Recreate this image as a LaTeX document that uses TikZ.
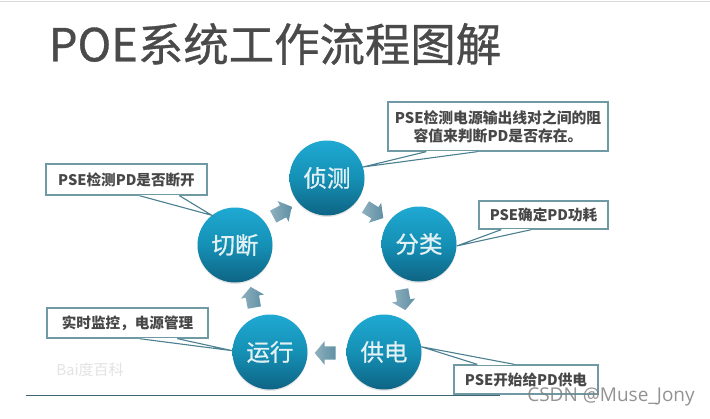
\documentclass[tikz,border=0pt]{standalone}
\usepackage{fontspec}
\setmainfont{Noto Sans CJK SC}
\newfontfamily\markfont{Open Sans}
\newfontfamily\heavyfont[FakeBold=0.7]{Noto Sans CJK SC}
\usetikzlibrary{calc,shapes.arrows,shadows}
\definecolor{boxline}{HTML}{6F9AA3}
\definecolor{tipline}{HTML}{4A8090}
\definecolor{titlegray}{HTML}{4A4A4A}
\definecolor{ballhigh}{HTML}{1FA9D3}
\definecolor{ballmid}{HTML}{1590B5}
\definecolor{balllow}{HTML}{0E6484}
\definecolor{balltext}{HTML}{E3F1F5}
\definecolor{flowlow}{HTML}{8FB0BE}
\definecolor{flowhigh}{HTML}{5F8FA4}
\tikzset{
  stage/.style={circle, minimum size=75pt, inner sep=0pt, top color=ballhigh, bottom color=balllow,
    middle color=ballmid, text=balltext, font=\heavyfont\fontsize{23.5}{23.5}\selectfont,
    drop shadow={opacity=0.2, shadow xshift=0pt, shadow yshift=-1.5pt}},
  note/.style={draw=boxline, line width=1.3pt, fill=white, text=black!72, inner sep=0pt, align=center,
    font=\fontsize{14.6}{18}\bfseries\selectfont},
  flow/.style={single arrow, inner sep=6.5pt, minimum height=21pt,
    single arrow head extend=5pt, single arrow tip angle=100,
    left color=flowlow, right color=flowhigh},
}
% box name, start and end of the wedge along the box edge, edge anchor, tip
\newcommand{\wedgeto}[5]{
  \coordinate (a) at ($(#1.#4 west)+(#2,0)$);
  \coordinate (b) at ($(#1.#4 west)+(#3,0)$);
  \fill[white] (a) -- (#5) -- (b) -- cycle;
  \draw[white, line width=1.8pt] (a) -- (b);
  \draw[tipline, line width=1.1pt] (a) -- (#5) -- (b);
}
\begin{document}
\begin{tikzpicture}[x=1pt, y=-1pt]
  \useasboundingbox (0,0) rectangle (710,418);
  \fill[white] (0,0) rectangle (710,418);
  % top edge and title
  \coordinate (topleft) at (0,1);
  \coordinate (topright) at (710,1);
  \draw[black!14, line width=1pt] (topleft) -- (topright);
  \node[anchor=center, text=titlegray, font=\heavyfont\fontsize{45.4}{45.4}\selectfont, inner sep=0pt] (title) at (275,44) {POE系统工作流程图解};

  % ground line
  \coordinate (groundleft) at (26,395);
  \coordinate (groundright) at (500,395);
  \draw[tipline!80!black, line width=1pt] (groundleft) -- (groundright);

  % faint stamp
  \node[text=black!11, font=\fontsize{15}{15}\selectfont, inner sep=0pt] (stamp) at (90,370) {Bai度百科};

  % the five stages
  \node[stage] (detect) at (327,178) {侦测};
  \node[stage] (classify) at (419,244) {分类};
  \node[stage] (power) at (384,352) {供电};
  \node[stage] (running) at (270,352) {运行};
  \node[stage] (cutoff) at (235,245) {切断};

  % arrows between stages
  \node[flow, rotate=28] (flowa) at (280,213) {};
  \node[flow, rotate=-32] (flowb) at (372,211) {};
  \node[flow, rotate=-80] (flowc) at (403,297) {};
  \node[flow, rotate=180] (flowd) at (328,353) {};
  \node[flow, rotate=100] (flowe) at (253,300) {};

  % notes
  \node[note, minimum width=220pt, minimum height=49pt, font=\fontsize{14.8}{18}\bfseries\selectfont] (detectnote) at (498,126.5) {PSE检测电源输出线对之间的阻\\容值来判断PD是否存在。};
  \node[note, minimum width=129pt, minimum height=28pt] (classifynote) at (543.5,215) {PSE确定PD功耗};
  \node[note, minimum width=144pt, minimum height=29pt] (powernote) at (526,379.5) {PSE开始给PD供电};
  \node[note, minimum width=161pt, minimum height=31pt] (cutoffnote) at (126.5,179.5) {PSE检测PD是否断开};
  \node[note, minimum width=161pt, minimum height=30pt] (runningnote) at (127.5,323) {实时监控，电源管理};

  % wedges from notes to stages
  \wedgeto{detectnote}{39}{90}{south}{detect.17}
  \wedgeto{classifynote}{23}{53}{south}{classify.-3}
  \wedgeto{powernote}{24}{61}{north}{power.8}
  \wedgeto{cutoffnote}{94}{134}{south}{cutoff.128}
  \wedgeto{runningnote}{93}{131}{south}{running.178}

  % site mark
  \node[text=black!50, opacity=0.85, font=\markfont\fontsize{19}{19}\selectfont, inner sep=0pt] (sitemark) at (611,397) {CSDN @Muse\_Jony};
\end{tikzpicture}
\end{document}
